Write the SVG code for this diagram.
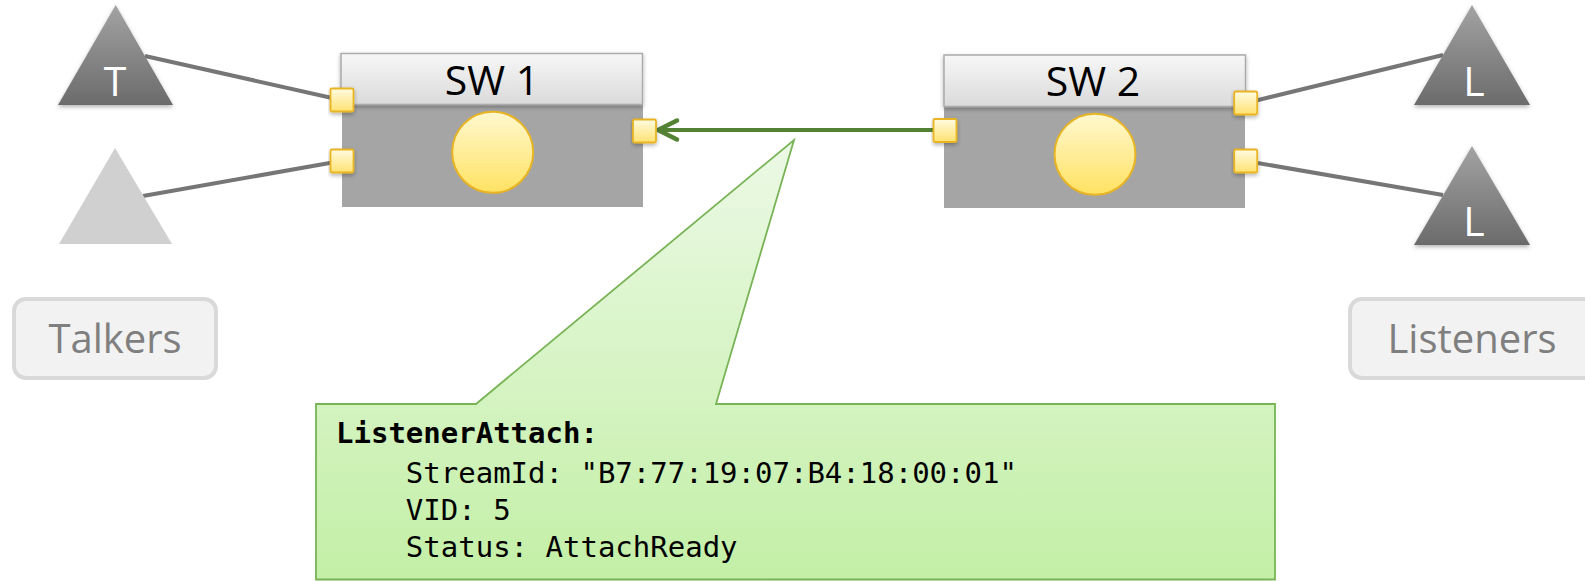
<svg xmlns="http://www.w3.org/2000/svg" width="1585" height="581" viewBox="0 0 1585 581">
  <defs>
    <linearGradient id="triDark" x1="0" y1="0" x2="0" y2="1">
      <stop offset="0" stop-color="#a3a3a3"/>
      <stop offset="1" stop-color="#6b6b6b"/>
    </linearGradient>
    <linearGradient id="hdrGrad" x1="0" y1="0" x2="0" y2="1">
      <stop offset="0" stop-color="#f7f7f7"/>
      <stop offset="1" stop-color="#dadada"/>
    </linearGradient>
    <linearGradient id="portGrad" x1="0" y1="0" x2="0" y2="1">
      <stop offset="0" stop-color="#fffbe0"/>
      <stop offset="1" stop-color="#ffe271"/>
    </linearGradient>
    <linearGradient id="ballGrad" x1="0" y1="0" x2="0" y2="1">
      <stop offset="0" stop-color="#fff8cf"/>
      <stop offset="1" stop-color="#ffe262"/>
    </linearGradient>
    <linearGradient id="calloutGrad" gradientUnits="userSpaceOnUse" x1="0" y1="140" x2="0" y2="580">
      <stop offset="0" stop-color="#ecf9e6"/>
      <stop offset="1" stop-color="#c3efa6"/>
    </linearGradient>
    <filter id="shadow" x="-10%" y="-10%" width="130%" height="140%">
      <feDropShadow dx="0" dy="2" stdDeviation="2" flood-color="#000" flood-opacity="0.3"/>
    </filter>
    <marker id="chevron" viewBox="-24 -13 28 26" refX="0" refY="0" markerUnits="userSpaceOnUse" markerWidth="28" markerHeight="26" orient="auto">
      <path d="M-19,-9.5 L0,0 L-19,9.5" fill="none" stroke="#548235" stroke-width="4.5" stroke-linecap="round" stroke-linejoin="round"/>
    </marker>
    <style>
      .wire { stroke: #767676; stroke-width: 4; fill: none; }
      .msg { stroke: #548235; stroke-width: 4; fill: none; }
      .tri { fill: url(#triDark); filter: url(#shadow); }
      .triLite { fill: #d0d0d0; }
      .triLbl { font-family: "Open Sans", "Noto Sans", sans-serif; font-size: 41px; fill: #ffffff; text-anchor: middle; }
      .hdr { fill: url(#hdrGrad); stroke: #ababab; stroke-width: 1.5; filter: url(#shadow); }
      .body { fill: #a5a5a5; }
      .swLbl { font-family: "Open Sans", "Noto Sans", sans-serif; font-size: 41px; fill: #000000; text-anchor: middle; }
      .port { fill: url(#portGrad); stroke: #e8b424; stroke-width: 1.8; filter: url(#shadow); }
      .ball { fill: url(#ballGrad); stroke: #e8b424; stroke-width: 2; }
      .tag { fill: #f2f2f2; stroke: #d9d9d9; stroke-width: 4; }
      .tagLbl { font-family: "Open Sans", "Noto Sans", sans-serif; font-size: 40px; fill: #7f7f7f; text-anchor: middle; }
      .callout { fill: url(#calloutGrad); stroke: #78b356; stroke-width: 1.8; }
      .code { font-family: "DejaVu Sans Mono", "Liberation Mono", monospace; font-size: 29px; fill: #000000; white-space: pre; }
    </style>
  </defs>

  <rect width="1585" height="581" fill="#ffffff"/>

  <!-- links between end stations, switches and the declaration -->
  <g id="connectors">
    <line class="wire" x1="145" y1="56" x2="341" y2="100"/>
    <line class="wire" x1="143" y1="196" x2="341" y2="161"/>
    <line class="wire" x1="1246" y1="103" x2="1443" y2="55"/>
    <line class="wire" x1="1246" y1="161" x2="1443" y2="195"/>
    <line class="msg" x1="934" y1="130" x2="658" y2="130" marker-end="url(#chevron)"/>
  </g>

  <!-- talker end stations -->
  <g id="talker-t">
    <polygon class="tri" points="115.7,5 58,105 173,105"/>
    <text class="triLbl" x="115" y="96">T</text>
  </g>
  <g id="talker-idle">
    <polygon class="triLite" points="115,148 59,244 172,244"/>
  </g>

  <!-- listener end stations -->
  <g id="listener-1">
    <polygon class="tri" points="1472,5 1414,105 1530,105"/>
    <text class="triLbl" x="1474" y="96">L</text>
  </g>
  <g id="listener-2">
    <polygon class="tri" points="1472,146 1414,245 1530,245"/>
    <text class="triLbl" x="1474" y="236">L</text>
  </g>

  <!-- bridge SW 1 -->
  <g id="sw1">
    <rect class="body" x="342" y="104" width="301" height="103"/>
    <rect class="hdr" x="341" y="53.5" width="301.5" height="51"/>
    <text class="swLbl" x="492" y="95">SW 1</text>
    <circle class="ball" cx="492.7" cy="152.3" r="40.5"/>
    <rect class="port" x="330.5" y="88.5" width="23" height="23" rx="1.5"/>
    <rect class="port" x="330.5" y="149.5" width="23" height="23" rx="1.5"/>
    <rect class="port" x="633" y="119.5" width="23" height="23" rx="1.5"/>
  </g>

  <!-- bridge SW 2 -->
  <g id="sw2">
    <rect class="body" x="944" y="106" width="301" height="102"/>
    <rect class="hdr" x="944" y="55" width="301.5" height="51.5"/>
    <text class="swLbl" x="1093" y="96">SW 2</text>
    <circle class="ball" cx="1095" cy="154.3" r="40.5"/>
    <rect class="port" x="933.5" y="119" width="23" height="23" rx="1.5"/>
    <rect class="port" x="1234.2" y="91.5" width="23" height="23" rx="1.5"/>
    <rect class="port" x="1234.2" y="149.5" width="23" height="23" rx="1.5"/>
  </g>

  <!-- group captions -->
  <g id="talkers-tag">
    <rect class="tag" x="14" y="299" width="202" height="79" rx="12"/>
    <text class="tagLbl" x="115" y="353">Talkers</text>
  </g>
  <g id="listeners-tag">
    <rect class="tag" x="1350" y="299" width="246" height="79" rx="12"/>
    <text class="tagLbl" x="1472" y="353">Listeners</text>
  </g>

  <!-- ListenerAttach declaration callout -->
  <g id="declaration">
    <path class="callout" d="M316,404 L476,404 L794,140 L716,404 L1275,404 L1275,579.5 L316,579.5 Z"/>
    <text class="code" x="336" y="443" font-weight="bold">ListenerAttach:</text>
    <text class="code" x="336" y="483">    StreamId: "B7:77:19:07:B4:18:00:01"</text>
    <text class="code" x="336" y="520">    VID: 5</text>
    <text class="code" x="336" y="557">    Status: AttachReady</text>
  </g>
</svg>
